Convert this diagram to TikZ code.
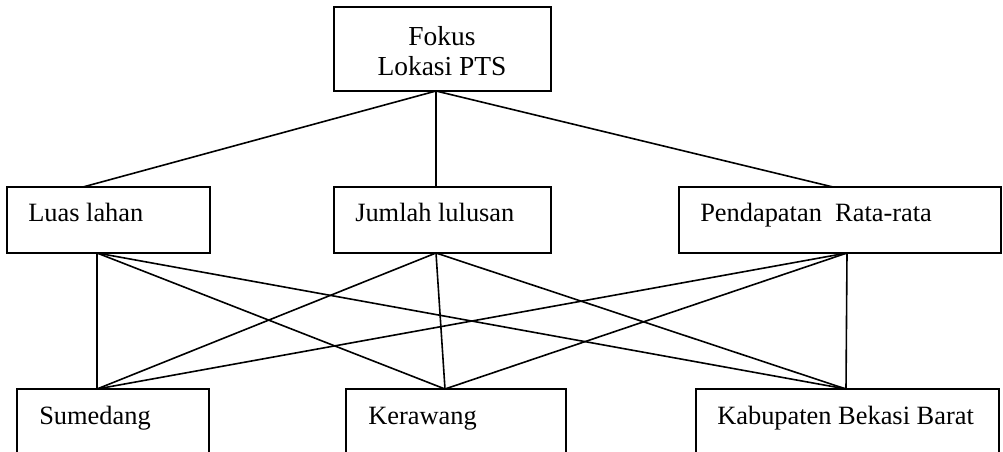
\documentclass[tikz,border=0pt]{standalone}
\usepackage{fontspec}
\setmainfont{Liberation Serif}
\begin{document}
\begin{tikzpicture}[x=0.75pt,y=-0.75pt,
  box/.style={draw,line width=1.5pt,inner sep=0pt},
  lbl/.style={inner sep=0pt,anchor=base west,font=\fontsize{19.8}{24}\selectfont},
  toplbl/.style={inner sep=0pt,anchor=base,font=\fontsize{20.6}{24}\selectfont},
  conn/.style={line width=1.2pt}]
\useasboundingbox (0,0) rectangle (1003,452);
\clip (0,0) rectangle (1003,452);
% boxes
\node[box,minimum width=162.75pt,minimum height=63pt] (top) at (442.5,49) {};
\node[box,minimum width=152.25pt,minimum height=49.5pt] (luas) at (108.5,220) {};
\node[box,minimum width=162.75pt,minimum height=49.5pt] (jumlah) at (442.5,220) {};
\node[box,minimum width=241.5pt,minimum height=49.5pt] (pend) at (840,220) {};
\node[box,minimum width=144pt,minimum height=60.75pt] (sumedang) at (113,429.5) {};
\node[box,minimum width=165pt,minimum height=60.75pt] (kerawang) at (456,429.5) {};
\node[box,minimum width=227.25pt,minimum height=60.75pt] (kab) at (847.5,429.5) {};
% labels
\node[toplbl] (t1) at (442,46) {Fokus};
\node[toplbl] (t2) at (442,76) {Lokasi PTS};
\node[lbl] (l1) at (28,222) {Luas lahan};
\node[lbl] (l2) at (355,222) {Jumlah lulusan};
\node[lbl] (l3) at (700,222) {Pendapatan\ \ Rata-rata};
\node[lbl] (l4) at (39,424) {Sumedang};
\node[lbl] (l5) at (368,424) {Kerawang};
\node[lbl] (l6) at (717,424) {Kabupaten Bekasi Barat};
% attach points
\coordinate (topS) at (436,91);
\coordinate (luasN) at (83,187);
\coordinate (jumlahN) at (436,187);
\coordinate (pendN) at (833,187);
\coordinate (luasS) at (97,253);
\coordinate (jumlahS) at (436,253);
\coordinate (pendS) at (847,253);
\coordinate (sumN) at (97,389);
\coordinate (kerN) at (445,389);
\coordinate (kabN) at (846,389);
% connectors
\draw[conn] (topS) -- (luasN);
\draw[conn] (topS) -- (jumlahN);
\draw[conn] (topS) -- (pendN);
\foreach \s in {luasS,jumlahS,pendS}{
  \draw[conn] (\s) -- (sumN);
  \draw[conn] (\s) -- (kerN);
  \draw[conn] (\s) -- (kabN);
}
\end{tikzpicture}
\end{document}
